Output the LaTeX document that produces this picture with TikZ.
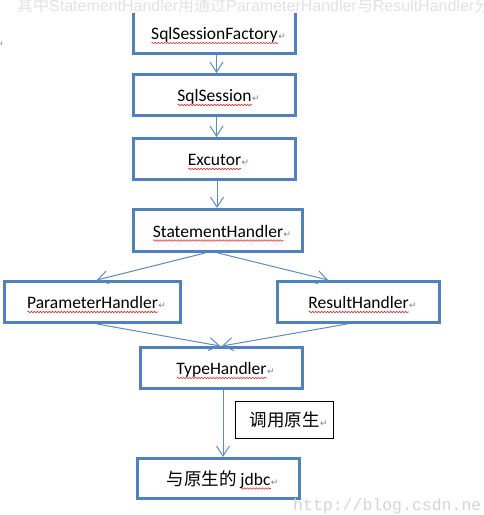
\documentclass[tikz,border=0pt]{standalone}
\usepackage{fontspec}
\setmainfont{Carlito}
\newfontfamily\cjk{Noto Sans CJK SC}
\newfontfamily\hdrfont{Liberation Sans}
\newfontfamily\wmfont{Liberation Mono}
\newfontfamily\markfont{DejaVu Sans}
\usetikzlibrary{arrows.meta,decorations.pathmorphing}
\definecolor{boxblue}{HTML}{4F81BD}
\definecolor{arrblue}{HTML}{5B8BC8}
\definecolor{wavered}{HTML}{E03030}
\definecolor{markgray}{HTML}{808080}
\definecolor{hdrgray}{HTML}{E2E2E2}
\definecolor{wmgray}{HTML}{D4D4D4}
\newsavebox\wavebox
\newcommand\redwave[1]{\sbox\wavebox{#1}%
  \rlap{\raisebox{-3.5pt}[0pt][0pt]{\tikz[x=1pt,y=1pt,baseline=0pt]\draw[wavered,line width=0.6pt,
    decorate,decoration={snake,amplitude=0.8pt,segment length=3pt}] (0,0) -- (\the\wd\wavebox,0);}}%
  \usebox\wavebox}
\newcommand\pmark{\rlap{\hspace{0.5pt}\textcolor{markgray}{\markfont\fontsize{9}{9}\selectfont ↵}}}
\begin{document}
\begin{tikzpicture}[x=1pt,y=-1pt,
  box/.style={draw=boxblue,line width=3pt,minimum width=162pt,minimum height=41pt,inner sep=0pt,
    text height=14pt,text depth=1pt,font=\fontsize{17.5}{20}\selectfont},
  callbox/.style={draw=black,line width=1pt,minimum width=98pt,minimum height=37pt,inner sep=0pt,
    text height=14pt,text depth=1pt,font=\fontsize{17.5}{20}\selectfont},
  link/.style={draw=arrblue,line width=1pt,-{Straight Barb[length=10pt,width=13pt,line width=1pt]}},
  faint/.style={inner sep=0pt,anchor=base west}]
\useasboundingbox (0,0) rectangle (483,515);
% boxes
\node[box,minimum height=55pt,text height=,text depth=] (sf) at (214.5,25.5)
  {\raisebox{-14pt}[0pt][0pt]{\redwave{SqlSessionFactory}\pmark}};
\node[box] (ss) at (214.5,95) {\redwave{SqlSession}\pmark};
\node[box] (ex) at (214.5,159) {\redwave{Excutor}\pmark};
\node[box,minimum width=169pt,minimum height=42pt] (st) at (218,230.5) {\redwave{StatementHandler}\pmark};
\node[box,minimum width=176pt] (ph) at (92.5,302) {\redwave{ParameterHandler}\pmark};
\node[box] (rh) at (358.5,302) {\redwave{ResultHandler}\pmark};
\node[box] (th) at (221.5,368) {\redwave{TypeHandler}\pmark};
\node[box,minimum height=40pt] (jd) at (218.5,478.5) {{\cjk 与原生的} \redwave{jdbc}\pmark};
\node[callbox] (call) at (284.5,420) {{\cjk 调用原生}\pmark};
% connectors
\draw[link] ([xshift=2pt]sf.south) -- ([xshift=2pt]ss.north);
\draw[link] ([xshift=2pt]ss.south) -- ([xshift=2pt]ex.north);
\draw[link] ([xshift=2.5pt]ex.south) -- ([xshift=-1pt]st.north);
\draw[link] ([xshift=-13pt]st.south) -- ([xshift=4.5pt]ph.north);
\draw[link] (st.south) -- ([xshift=-30.5pt]rh.north);
\draw[link] ([xshift=4.5pt]ph.south) -- ([xshift=-1.5pt]th.north);
\draw[link] ([xshift=-11.5pt]rh.south) -- ([xshift=0.5pt]th.north);
\draw[link] ([xshift=1.5pt]th.south) -- ([xshift=4.5pt]jd.north);
% mask above first box and faint texts
\fill[white] (-5,-10) rectangle (490,12.5);
\node[faint,text=hdrgray,font=\hdrfont\fontsize{16}{16}\selectfont] (hdr) at (17,11)
  {{\cjk 其中}StatementHandler{\cjk 用通过}ParameterHandler{\cjk 与}ResultHandler{\cjk 分}};
\node[faint,text=markgray,font=\markfont\fontsize{9}{9}\selectfont] (pm0) at (-4,47) {↵};
\node[faint,text=wmgray,font=\wmfont\fontsize{16.5}{16.5}\selectfont] (wm) at (293,510) {http://blog.csdn.ne};
\end{tikzpicture}
\end{document}
